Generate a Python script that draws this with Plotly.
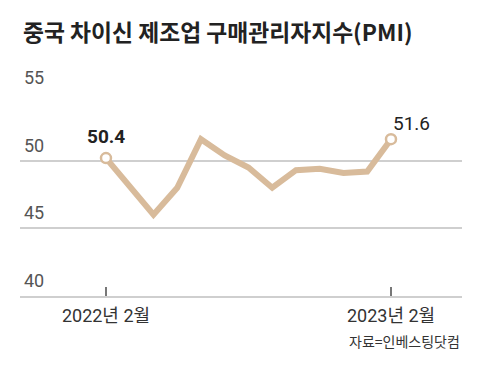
import plotly.graph_objects as go

months = ["2022-02", "2022-03", "2022-04", "2022-05", "2022-06", "2022-07", "2022-08",
          "2022-09", "2022-10", "2022-11", "2022-12", "2023-01", "2023-02"]
pmi = [50.2, 48.1, 46.0, 48.0, 51.6, 50.4, 49.5, 48.0, 49.3, 49.4, 49.1, 49.2, 51.6]
label_first = "50.4"
label_last = "51.6"
x_tick_vals = ["2022-02", "2023-02"]
x_tick_text = ["2022년 2월", "2023년 2월"]
y_ticks = [40, 45, 50, 55]

title = "중국 차이신 제조업 구매관리자지수(PMI)"
source = "자료=인베스팅닷컴"

LINE = "#D8BB9B"
GRID = "#CFCFCF"
NUM = "Roboto, Noto Sans CJK KR, sans-serif"
KR = "Noto Sans CJK KR, sans-serif"

# page body has an 8px margin, so the figure is drawn 8px smaller and offset
W, H = 472, 364

fig = go.Figure()
fig.add_trace(go.Scatter(
    x=months, y=pmi, mode="lines",
    line=dict(color=LINE, width=6), hoverinfo="skip", showlegend=False, cliponaxis=False))
fig.add_trace(go.Scatter(
    x=[months[0], months[-1]], y=[pmi[0], pmi[-1]], mode="markers",
    marker=dict(size=10, color="white", line=dict(color=LINE, width=2.5)),
    hoverinfo="skip", showlegend=False, cliponaxis=False))

fig.add_annotation(x=months[0], y=pmi[0], text="<b>" + label_first + "</b>", showarrow=False,
                   yshift=22, font=dict(family=NUM, size=19, color="#222"))
fig.add_annotation(x=months[-1], y=pmi[-1], text=label_last, showarrow=False,
                   xshift=21, yshift=16, font=dict(family=NUM, size=19, color="#222"))
fig.add_annotation(xref="paper", yref="paper", x=1, y=-0.22, xanchor="right", yanchor="middle",
                   text=source, showarrow=False, font=dict(family=KR, size=14, color="#333"))
for v in y_ticks:
    fig.add_annotation(xref="paper", yref="y", x=0.004, y=v, xanchor="left", yanchor="bottom",
                       yshift=3, text=str(v), showarrow=False,
                       font=dict(family=NUM, size=18, color="#555"))

fig.update_layout(
    width=W, height=H,
    margin=dict(l=12, r=18, t=85, b=76, autoexpand=False),
    paper_bgcolor="white", plot_bgcolor="white",
    title=dict(text="<b>" + title + "</b>", xref="container", yref="container",
               x=15 / W, y=1 - 25 / H, xanchor="left", yanchor="middle",
               font=dict(family=KR, size=22.8, color="#222")),
    xaxis=dict(type="category", categoryorder="array", categoryarray=months,
               range=[-3.62, 14.99], tickvals=x_tick_vals, ticktext=x_tick_text,
               ticks="inside", ticklen=9, tickwidth=1.5, tickcolor="#777",
               ticklabelstandoff=3,
               showgrid=False, zeroline=False, showline=True, linecolor=GRID, linewidth=1.5,
               automargin=False,
               tickfont=dict(family=NUM, size=18, color="#333"), fixedrange=True),
    yaxis=dict(range=[39.98, 55.02], tickvals=y_ticks, showticklabels=False, automargin=False,
               showgrid=True, gridcolor=GRID, gridwidth=1.5, zeroline=False, showline=False,
               ticks="", fixedrange=True),
)

fig.write_html("out.html")
